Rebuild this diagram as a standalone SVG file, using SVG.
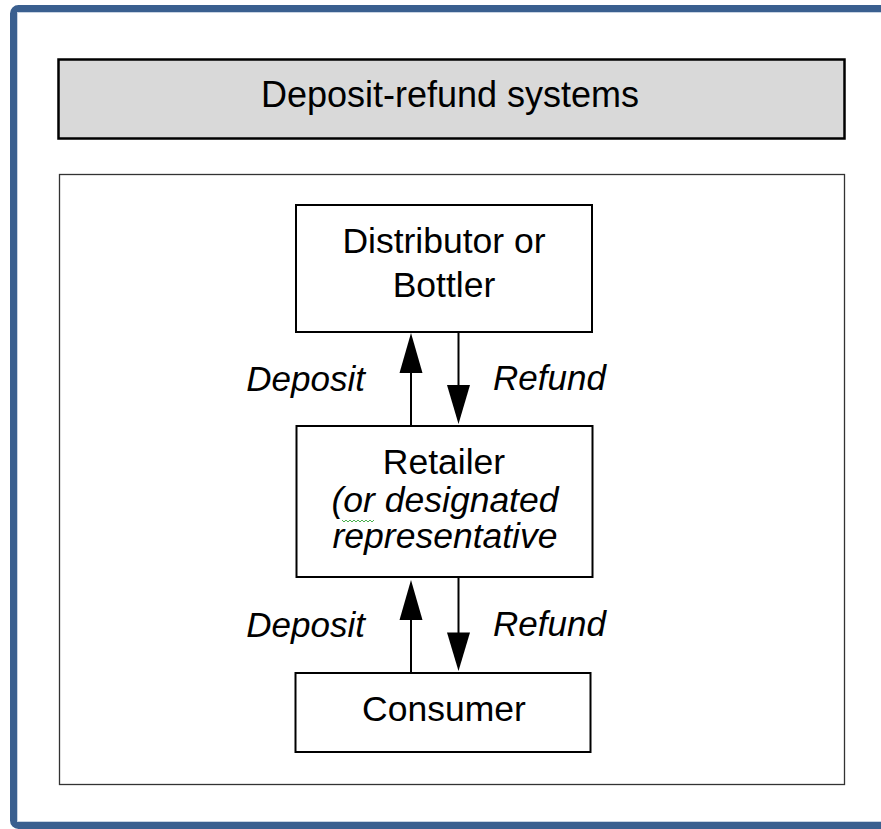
<svg xmlns="http://www.w3.org/2000/svg" width="881" height="829" viewBox="0 0 881 829">
<style>
.box{fill:#ffffff;stroke:#000000;stroke-width:2}
.t{font-family:"Liberation Sans",Arial,sans-serif;font-size:35.5px;fill:#000000;text-anchor:middle}
.lbl{font-family:"Liberation Sans",Arial,sans-serif;font-size:35px;font-style:italic;fill:#000000}
.ln{stroke:#000000;stroke-width:2;fill:none}
.hd{fill:#000000;stroke:none}
</style>
<rect x="0" y="0" width="881" height="829" fill="#ffffff"/>
<g id="frame">
<rect x="13.5" y="8.5" width="900" height="817" rx="5" fill="#ffffff" stroke="#3a5f8f" stroke-width="7"/>
<rect x="17.5" y="12.5" width="900" height="809" fill="none" stroke="#c8d3e2" stroke-width="1"/>
</g>
<g id="title">
<rect x="58.5" y="59.5" width="786" height="79" fill="#d9d9d9" stroke="#000000" stroke-width="2.5"/>
<text class="t" x="450" y="107" style="font-size:36px">Deposit-refund systems</text>
</g>
<g id="panel">
<rect x="59.5" y="174.5" width="785" height="610" fill="#ffffff" stroke="#333333" stroke-width="1.3"/>
</g>
<g id="connectors">
<line class="ln" x1="411" y1="426" x2="411" y2="370"/>
<polygon class="hd" points="411,333 399.5,373 422.5,373"/>
<line class="ln" x1="458.5" y1="332" x2="458.5" y2="388"/>
<polygon class="hd" points="458.5,424 447,385 470,385"/>
<line class="ln" x1="411" y1="673" x2="411" y2="617"/>
<polygon class="hd" points="411,580 399.5,620 422.5,620"/>
<line class="ln" x1="458.5" y1="577" x2="458.5" y2="635"/>
<polygon class="hd" points="458.5,671 447,632.5 470,632.5"/>
<text class="lbl" x="365" y="391" text-anchor="end">Deposit</text>
<text class="lbl" x="493" y="390">Refund</text>
<text class="lbl" x="365" y="637" text-anchor="end">Deposit</text>
<text class="lbl" x="493" y="636">Refund</text>
</g>
<g id="distributor">
<rect class="box" x="296" y="205" width="296" height="127"/>
<text class="t" x="444" y="253">Distributor or</text>
<text class="t" x="444" y="297">Bottler</text>
</g>
<g id="retailer">
<rect class="box" x="296.5" y="426" width="296" height="151"/>
<text class="t" x="444" y="474">Retailer</text>
<text class="t" x="445" y="512" font-style="italic">(or designated</text>
<text class="t" x="445" y="548" font-style="italic">representative</text>
<path d="M342,520 l2,2 l2,-2 l2,2 l2,-2 l2,2 l2,-2 l2,2 l2,-2 l2,2 l2,-2 l2,2 l2,-2 l2,2 l2,-2 l2,2 l2,-2" fill="none" stroke="#4caf50" stroke-width="1"/>
</g>
<g id="consumer">
<rect class="box" x="295.5" y="673" width="295" height="79"/>
<text class="t" x="444" y="721">Consumer</text>
</g>
</svg>
